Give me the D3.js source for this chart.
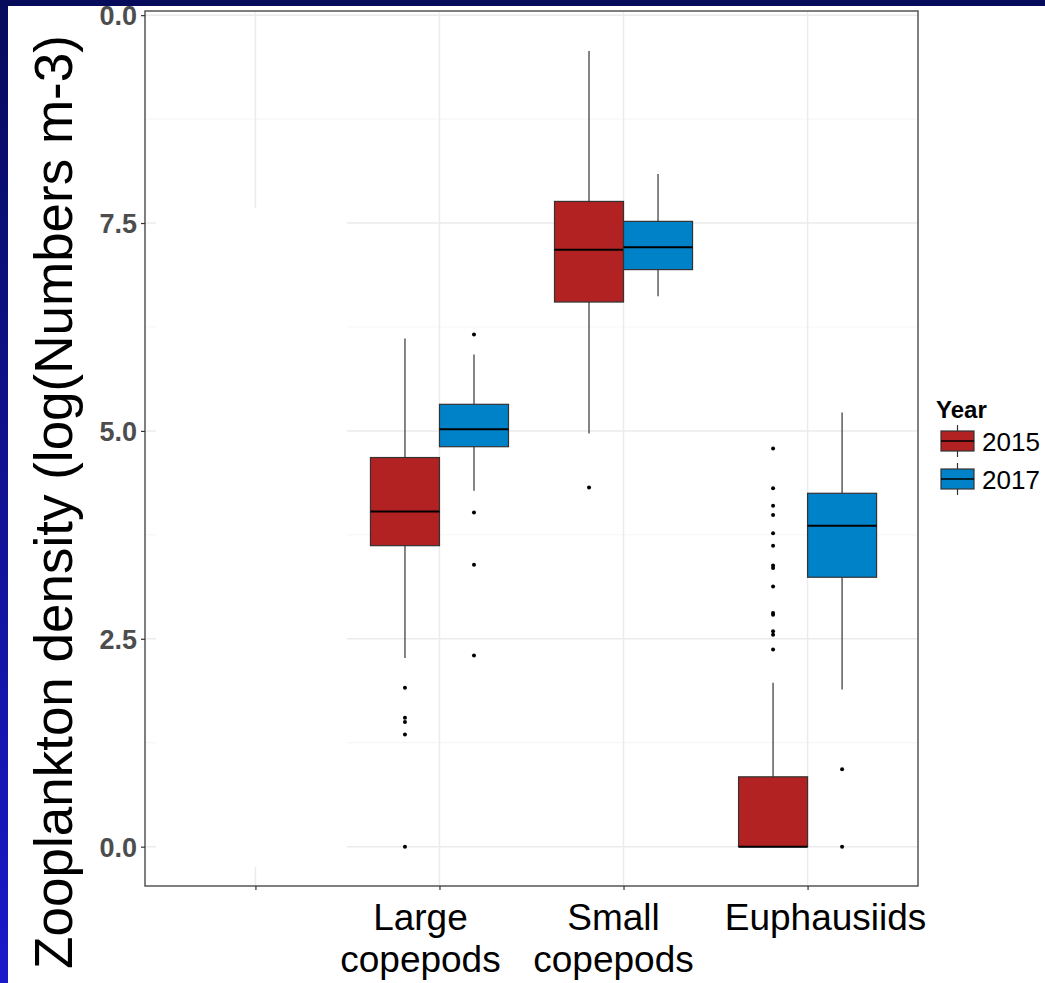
<!DOCTYPE html>
<html>
<head>
<meta charset="utf-8">
<script src="https://cdn.jsdelivr.net/npm/d3@7"></script>
<style>
  body { margin: 0; padding: 0; background: #fff; }
  svg { display: block; font-family: "Liberation Sans", Arial, sans-serif; }
</style>
</head>
<body>
<svg id="chart" width="1045" height="983"></svg>
<script>
// categories on the x axis (first one is empty in the original)
const categories = ["", "Large\ncopepods", "Small\ncopepods", "Euphausiids"];
const boxCats = ["Large\ncopepods", "Small\ncopepods", "Euphausiids"];
const years = ["2015", "2017"];

// [lower whisker, q1, median, q3, upper whisker]
const box2015 = [
  [2.27, 3.62, 4.03, 4.68, 6.11],
  [4.97, 6.55, 7.18, 7.76, 9.57],
  [0.0, 0.0, 0.0, 0.84, 1.97],
];
const box2017 = [
  [4.28, 4.81, 5.02, 5.32, 5.92],
  [6.62, 6.94, 7.21, 7.52, 8.09],
  [1.89, 3.24, 3.86, 4.25, 5.22],
];
const out2015 = [
  [1.91, 1.55, 1.50, 1.35, 0.0],
  [4.32],
  [4.79, 4.31, 4.10, 3.99, 3.77, 3.62, 3.38, 3.35, 3.13, 2.81, 2.79, 2.59, 2.55, 2.37],
];
const out2017 = [
  [6.16, 4.02, 3.39, 2.30],
  [],
  [0.93, 0.0],
];

const yTicks = [0, 2.5, 5, 7.5, 10];
const yTickLabels = ["0.0", "2.5", "5.0", "7.5", "0.0"];
const yMinor = [1.25, 3.75, 6.25, 8.75];

const colors = { "2015": "#b22222", "2017": "#0082c8" };

const svg = d3.select("#chart");
const W = 1045, H = 983;
const panel = { left: 145, right: 918, top: 11, bottom: 886 };

// slide background
const defs = svg.append("defs");
const grad = defs.append("linearGradient")
  .attr("id", "side").attr("x1", 0).attr("y1", 0).attr("x2", 0).attr("y2", 1);
grad.append("stop").attr("offset", "0%").attr("stop-color", "#070b5c");
grad.append("stop").attr("offset", "100%").attr("stop-color", "#1a1acb");
svg.append("rect").attr("width", W).attr("height", H).attr("fill", "url(#side)");
svg.append("rect").attr("width", W).attr("height", 6).attr("fill", "#070b5c");
svg.append("rect").attr("x", 8).attr("y", 6).attr("width", W - 8).attr("height", H - 6).attr("fill", "#fff");

const x = d3.scalePoint()
  .domain(categories)
  .range([panel.left, panel.right])
  .padding(0.6);
const step = x.step();
const dodge = d3.scaleBand().domain(years)
  .range([-0.375 * step, 0.375 * step]);

const y = d3.scaleLinear()
  .domain([-0.473, 10.05])
  .range([panel.bottom, panel.top]);

const g = svg.append("g");

// grid
g.selectAll(".minor").data(yMinor).join("line")
  .attr("x1", panel.left).attr("x2", panel.right)
  .attr("y1", d => y(d)).attr("y2", d => y(d))
  .attr("stroke", "#f2f2f2").attr("stroke-width", 0.8);
g.selectAll(".major").data(yTicks).join("line")
  .attr("x1", panel.left).attr("x2", panel.right)
  .attr("y1", d => y(d)).attr("y2", d => y(d))
  .attr("stroke", "#ebebeb").attr("stroke-width", 1.5);
g.selectAll(".vgrid").data(categories).join("line")
  .attr("x1", d => x(d)).attr("x2", d => x(d))
  .attr("y1", panel.top).attr("y2", panel.bottom)
  .attr("stroke", "#ebebeb").attr("stroke-width", 1.5);

// blank patch that hides the empty category area in the original
g.append("rect")
  .attr("x", 156).attr("y", 208).attr("width", 191).attr("height", 659)
  .attr("fill", "#fff");

// boxes
const boxes = [];
boxCats.forEach((c, i) => {
  boxes.push({ cat: c, year: "2015", s: box2015[i], out: out2015[i] });
  boxes.push({ cat: c, year: "2017", s: box2017[i], out: out2017[i] });
});

const bw = dodge.bandwidth();
const bg = g.selectAll(".box").data(boxes).join("g")
  .attr("transform", d => `translate(${x(d.cat) + dodge(d.year)},0)`);

bg.append("line")
  .attr("x1", bw / 2).attr("x2", bw / 2)
  .attr("y1", d => y(d.s[4])).attr("y2", d => y(d.s[3]))
  .attr("stroke", "#333").attr("stroke-width", 1.2);
bg.append("line")
  .attr("x1", bw / 2).attr("x2", bw / 2)
  .attr("y1", d => y(d.s[1])).attr("y2", d => y(d.s[0]))
  .attr("stroke", "#333").attr("stroke-width", 1.2);
bg.append("rect")
  .attr("x", 0).attr("width", bw)
  .attr("y", d => y(d.s[3]))
  .attr("height", d => y(d.s[1]) - y(d.s[3]))
  .attr("fill", d => colors[d.year])
  .attr("stroke", "#333").attr("stroke-width", 1.2);
bg.append("line")
  .attr("x1", 0).attr("x2", bw)
  .attr("y1", d => y(d.s[2])).attr("y2", d => y(d.s[2]))
  .attr("stroke", "#000").attr("stroke-width", 2);
bg.selectAll("circle").data(d => d.out).join("circle")
  .attr("cx", bw / 2).attr("cy", d => y(d)).attr("r", 2)
  .attr("fill", "#000");

// panel border
g.append("rect")
  .attr("x", panel.left).attr("y", panel.top)
  .attr("width", panel.right - panel.left)
  .attr("height", panel.bottom - panel.top)
  .attr("fill", "none").attr("stroke", "#555").attr("stroke-width", 1.5);

// y axis
const yAxis = svg.append("g")
  .attr("transform", `translate(${panel.left},0)`)
  .call(d3.axisLeft(y).tickValues(yTicks)
    .tickFormat((d, i) => yTickLabels[i]).tickSize(4).tickPadding(4));
yAxis.select(".domain").remove();
yAxis.selectAll(".tick line").attr("stroke", "#333").attr("stroke-width", 1.2);
yAxis.selectAll(".tick text")
  .attr("fill", "#4d4d4d").attr("font-size", 27).attr("font-weight", "bold")
  .attr("font-family", "Liberation Sans, Arial, sans-serif")
  .attr("dy", "0.36em");

// x axis ticks
const xAxis = svg.append("g")
  .attr("transform", `translate(0,${panel.bottom})`)
  .call(d3.axisBottom(x).tickSize(4).tickFormat(""));
xAxis.select(".domain").remove();
xAxis.selectAll(".tick line").attr("stroke", "#333").attr("stroke-width", 1.2);

// x category labels
const labelNudge = { "Large\ncopepods": -19, "Small\ncopepods": -10, "Euphausiids": 18 };
boxCats.forEach(c => {
  const t = svg.append("text")
    .attr("text-anchor", "middle")
    .attr("font-size", 37).attr("fill", "#000");
  c.split("\n").forEach((line, i) => {
    t.append("tspan")
      .attr("x", x(c) + labelNudge[c])
      .attr("y", 930 + i * 42)
      .text(line);
  });
});

// y title
svg.append("text")
  .attr("transform", "translate(72,502) rotate(-90)")
  .attr("text-anchor", "middle")
  .attr("font-size", 53).attr("fill", "#000")
  .text("Zooplankton density (log(Numbers m-3)");

// legend
const leg = svg.append("g").attr("transform", "translate(936,0)");
leg.append("text")
  .attr("x", 0).attr("y", 418)
  .attr("font-size", 24).attr("font-weight", "bold").attr("fill", "#000")
  .text("Year");
const li = leg.selectAll(".li").data(years).join("g")
  .attr("transform", (d, i) => `translate(5,${431 + i * 38})`);
li.append("line")
  .attr("x1", 16.5).attr("x2", 16.5).attr("y1", -6).attr("y2", 26)
  .attr("stroke", "#333").attr("stroke-width", 1.2);
li.append("rect")
  .attr("width", 33).attr("height", 20)
  .attr("fill", d => colors[d]).attr("stroke", "#333").attr("stroke-width", 1.2);
li.append("line")
  .attr("x1", 0).attr("x2", 33).attr("y1", 10).attr("y2", 10)
  .attr("stroke", "#000").attr("stroke-width", 1.5);
li.append("text")
  .attr("x", 41).attr("y", 20)
  .attr("font-size", 26).attr("fill", "#000")
  .text(d => d);
</script>
</body>
</html>
